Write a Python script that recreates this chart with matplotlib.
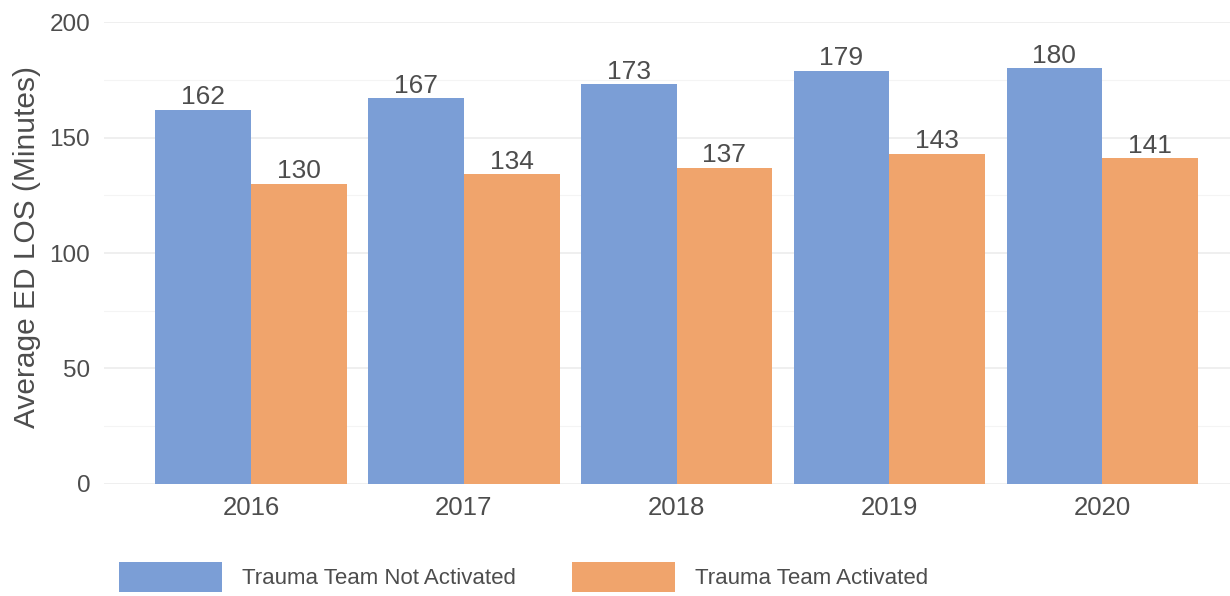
import matplotlib.pyplot as plt
import numpy as np
from matplotlib import rcParams
from matplotlib.ticker import MultipleLocator

rcParams['font.family'] = ['Liberation Sans', 'DejaVu Sans']

years = ["2016", "2017", "2018", "2019", "2020"]
not_activated = [162, 167, 173, 179, 180]
activated = [130, 134, 137, 143, 141]
series_names = ["Trauma Team Not Activated", "Trauma Team Activated"]

blue = "#7B9ED6"
orange = "#F0A46C"
grey = "#4D4D4D"

fig = plt.figure(figsize=(12.3, 5.96), dpi=100)
ax = fig.add_axes([0.0846, 0.188, 0.9154, 0.775])

x = np.arange(len(years))
w = 0.45
b1 = ax.bar(x - w / 2, not_activated, w, color=blue, label=series_names[0], zorder=2)
b2 = ax.bar(x + w / 2, activated, w, color=orange, label=series_names[1], zorder=2)

# value labels sit just above each bar
for bars in (b1, b2):
    for r in bars:
        ax.text(r.get_x() + r.get_width() / 2, r.get_height() + 0.3, f"{r.get_height():.0f}",
                ha='center', va='bottom', fontsize=19, color=grey, clip_on=False)

ax.set_xlim(-0.69, 4.6)
ax.set_ylim(0, 200)
ax.yaxis.set_major_locator(MultipleLocator(50))
ax.yaxis.set_minor_locator(MultipleLocator(25))
ax.grid(which='major', axis='y', color='#EBEBEB', linewidth=1.1, zorder=0)
ax.grid(which='minor', axis='y', color='#F4F4F4', linewidth=0.8, zorder=0)
ax.set_xticks(x)
ax.set_xticklabels(years)
ax.tick_params(axis='both', which='both', length=0, colors=grey)
ax.tick_params(axis='y', labelsize=17.5, pad=10)
ax.tick_params(axis='x', labelsize=18.5, pad=9)
for s in ax.spines.values():
    s.set_visible(False)
ax.set_ylabel("Average ED LOS (Minutes)", fontsize=21.5, color=grey)
ax.yaxis.set_label_coords(-0.056, 0.513)

fig.legend(handles=[b1, b2], labels=series_names, loc='upper left',
           bbox_to_anchor=(119 / 1230, 1 - 562 / 596), ncol=2, frameon=False,
           fontsize=16, labelcolor=grey,
           handlelength=4.64, handleheight=1.71,
           handletextpad=0.9, columnspacing=2.5, borderpad=0, borderaxespad=0)

fig.savefig("out.png", dpi=100)
